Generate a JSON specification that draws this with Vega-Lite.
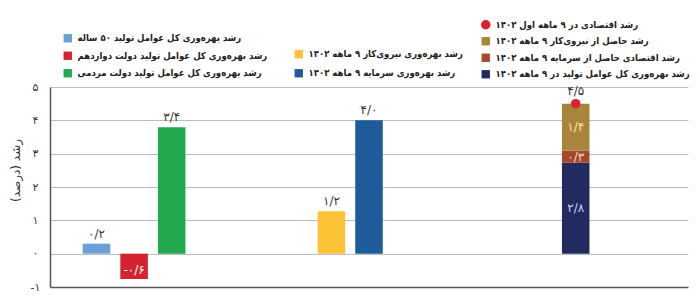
{
  "$schema": "https://vega.github.io/schema/vega-lite/v6.json",
  "width": 638,
  "height": 200,
  "autosize": "none",
  "padding": {"left": 50, "top": 87, "right": 12, "bottom": 21},
  "background": "#ffffff",
  "config": {
    "view": {"stroke": null},
    "font": "DejaVu Sans",
    "axis": {"labelOverlap": false},
    "legend": {
      "orient": "none",
      "title": null,
      "symbolType": "square",
      "symbolSize": 70,
      "symbolStrokeWidth": 0,
      "labelFont": "DejaVu Sans Condensed",
      "labelFontSize": 9.5,
      "labelFontWeight": "bold",
      "labelColor": "#222222",
      "rowPadding": 6.5,
      "labelOffset": 5,
      "padding": 0,
      "labelLimit": 400
    }
  },
  "data": {
    "values": [
      {"bar": "g1a", "series": "رشد بهره‌وری کل عوامل تولید ۵۰ ساله", "v": 0.3, "label": "۰/۲", "grp": "A", "k": 1},
      {"bar": "g1b", "series": "رشد بهره‌وری کل عوامل تولید دولت دوازدهم", "v": -0.76, "label": "-۰/۶", "grp": "A", "k": 1},
      {"bar": "g1c", "series": "رشد بهره‌وری کل عوامل تولید دولت مردمی", "v": 3.79, "label": "۳/۴", "grp": "A", "k": 1},
      {"bar": "g2a", "series": "رشد بهره‌وری نیروی‌کار ۹ ماهه ۱۴۰۲", "v": 1.27, "label": "۱/۲", "grp": "B", "k": 1},
      {"bar": "g2b", "series": "رشد بهره‌وری سرمایه ۹ ماهه ۱۴۰۲", "v": 4.0, "label": "۴/۰", "grp": "B", "k": 1},
      {"bar": "g3", "series": "رشد بهره‌وری کل عوامل تولید در ۹ ماهه ۱۴۰۲", "v": 2.73, "label": "۲/۸", "grp": "C", "k": 1},
      {"bar": "g3", "series": "رشد اقتصادی حاصل از سرمایه ۹ ماهه ۱۴۰۲", "v": 0.36, "label": "۰/۳", "grp": "C", "k": 2},
      {"bar": "g3", "series": "رشد حاصل از نیروی‌کار ۹ ماهه ۱۴۰۲", "v": 1.41, "label": "۱/۴", "grp": "C", "k": 3},
      {"bar": "g3", "series": "رشد اقتصادی در ۹ ماهه اول ۱۴۰۲", "v": 4.5, "label": "۴/۵", "grp": "D", "k": 4}
    ]
  },
  "encoding": {
    "x": {
      "field": "bar",
      "type": "nominal",
      "axis": null,
      "scale": {
        "paddingInner": 0,
        "paddingOuter": 0.45,
        "domain": ["s0","s1","s2","s3","g1a","s5","s6","s7","g1b","s9","s10","s11","g1c","s13","s14","s15","s16","s17","s18","s19","s20","s21","s22","s23","s24","s25","s26","s27","s28","g2a","s30","s31","s32","g2b","s34","s35","s36","s37","s38","s39","s40","s41","s42","s43","s44","s45","s46","s47","s48","s49","s50","s51","s52","s53","s54","g3","s56","s57","s58","s59","s60","s61","s62","s63","s64","s65","s66"]
      }
    }
  },
  "layer": [
    {
      "transform": [{"filter": "datum.grp === 'A'"}],
      "layer": [
        {
          "mark": {"type": "bar", "width": {"band": 2.93}},
          "encoding": {
            "y": {
              "field": "v",
              "type": "quantitative",
              "scale": {"domain": [-1, 5], "nice": false, "zero": false},
              "axis": {
                "values": [-1, 0, 1, 2, 3, 4, 5],
                "tickCount": 7,
                "labelOverlap": false,
                "labelExpr": "['-۱','٠','۱','۲','۳','۴','۵'][datum.value + 1]",
                "title": "‏رشد (درصد)‏",
                "titleFont": "DejaVu Sans",
                "titleFontSize": 12,
                "titleFontWeight": "normal",
                "titleColor": "#333333",
                "titleX": -35,
                "titleY": 83,
                "titleAlign": "center",
                "titleBaseline": "middle",
                "titleAngle": -90,
                "labelFont": "DejaVu Sans",
                "labelFontSize": 11,
                "labelColor": "#333333",
                "labelPadding": 15,
                "labelAlign": "center",
                "ticks": false,
                "domainColor": "#555555",
                "domainWidth": 1.5,
                "grid": true,
                "gridColor": {"condition": {"test": "datum.value === -1", "value": "#555555"}, "value": "#bcbcbc"},
                "gridWidth": {"condition": {"test": "datum.value === -1", "value": 1.5}, "value": 1}
              }
            },
            "color": {
              "field": "series",
              "type": "nominal",
              "scale": {
                "domain": ["رشد بهره‌وری کل عوامل تولید ۵۰ ساله", "رشد بهره‌وری کل عوامل تولید دولت دوازدهم", "رشد بهره‌وری کل عوامل تولید دولت مردمی"],
                "range": ["#6a9fd8", "#d42230", "#22a84d"]
              },
              "legend": {"legendX": 13, "legendY": -53.5}
            }
          }
        },
        {
          "transform": [{"filter": "datum.v > 0"}],
          "mark": {"type": "text", "baseline": "bottom", "dy": -3, "fontSize": 12, "color": "#333333"},
          "encoding": {
            "y": {"field": "v", "type": "quantitative"},
            "text": {"field": "label"}
          }
        },
        {
          "transform": [{"filter": "datum.v < 0"}],
          "mark": {"type": "text", "baseline": "middle", "dy": -9, "fontSize": 12, "color": "#ffffff"},
          "encoding": {
            "y": {"field": "v", "type": "quantitative"},
            "text": {"field": "label"}
          }
        }
      ]
    },
    {
      "transform": [{"filter": "datum.grp === 'B'"}],
      "layer": [
        {
          "mark": {"type": "bar", "width": {"band": 2.93}},
          "encoding": {
            "y": {"field": "v", "type": "quantitative"},
            "color": {
              "field": "series",
              "type": "nominal",
              "scale": {
                "domain": ["رشد بهره‌وری نیروی‌کار ۹ ماهه ۱۴۰۲", "رشد بهره‌وری سرمایه ۹ ماهه ۱۴۰۲"],
                "range": ["#fbc236", "#1d5c99"]
              },
              "legend": {"legendX": 244, "legendY": -37.5, "rowPadding": 8}
            }
          }
        },
        {
          "mark": {"type": "text", "baseline": "bottom", "dy": -3, "fontSize": 12, "color": "#333333"},
          "encoding": {
            "y": {"field": "v", "type": "quantitative"},
            "text": {"field": "label"}
          }
        }
      ]
    },
    {
      "transform": [{"filter": "datum.grp === 'C' || datum.grp === 'D'"}],
      "layer": [
        {
          "transform": [{"filter": "datum.grp === 'C'"}],
          "mark": {"type": "bar", "width": {"band": 2.93}},
          "encoding": {
            "y": {"field": "v", "type": "quantitative", "stack": "zero"},
            "order": {"field": "k", "type": "quantitative"},
            "color": {
              "field": "series",
              "type": "nominal",
              "scale": {
                "domain": ["رشد اقتصادی در ۹ ماهه اول ۱۴۰۲", "رشد حاصل از نیروی‌کار ۹ ماهه ۱۴۰۲", "رشد اقتصادی حاصل از سرمایه ۹ ماهه ۱۴۰۲", "رشد بهره‌وری کل عوامل تولید در ۹ ماهه ۱۴۰۲"],
                "range": ["#e0202b", "#a9853c", "#a44a2a", "#222a5f"]
              },
              "legend": {
                "legendX": 431,
                "legendY": -67,
                "rowPadding": 5.5,
                "encode": {
                  "symbols": {
                    "update": {
                      "shape": {"signal": "datum.value === 'رشد اقتصادی در ۹ ماهه اول ۱۴۰۲' ? 'circle' : 'square'"},
                      "size": {"signal": "datum.value === 'رشد اقتصادی در ۹ ماهه اول ۱۴۰۲' ? 90 : 70"}
                    }
                  }
                }
              }
            }
          }
        },
        {
          "transform": [{"filter": "datum.grp === 'C'"}],
          "mark": {"type": "text", "baseline": "middle", "fontSize": 12},
          "encoding": {
            "y": {"field": "v", "type": "quantitative", "stack": "zero", "bandPosition": 0.5},
            "order": {"field": "k", "type": "quantitative"},
            "text": {"field": "label"},
            "fill": {
              "field": "series",
              "type": "nominal",
              "scale": {
                "domain": ["رشد حاصل از نیروی‌کار ۹ ماهه ۱۴۰۲", "رشد اقتصادی حاصل از سرمایه ۹ ماهه ۱۴۰۲", "رشد بهره‌وری کل عوامل تولید در ۹ ماهه ۱۴۰۲"],
                "range": ["#f6e7ad", "#f3d9c6", "#cdd8f0"]
              },
              "legend": null
            }
          }
        },
        {
          "transform": [{"filter": "datum.grp === 'D'"}],
          "mark": {"type": "point", "filled": true, "shape": "circle", "size": 90, "opacity": 1},
          "encoding": {
            "y": {"field": "v", "type": "quantitative"},
            "color": {"field": "series", "type": "nominal"}
          }
        },
        {
          "transform": [{"filter": "datum.grp === 'D'"}],
          "mark": {"type": "text", "baseline": "bottom", "dy": -6, "fontSize": 12, "color": "#333333"},
          "encoding": {
            "y": {"field": "v", "type": "quantitative"},
            "text": {"field": "label"}
          }
        }
      ]
    }
  ],
  "resolve": {"scale": {"color": "independent"}, "legend": {"color": "independent"}}
}
